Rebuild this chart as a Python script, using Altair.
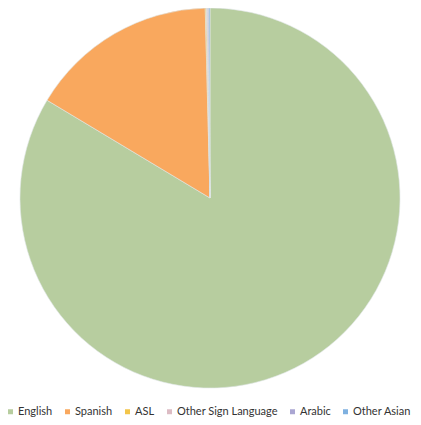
import altair as alt
import pandas as pd

languages = ["English", "Spanish", "ASL", "Other Sign Language", "Arabic", "Other Asian"]
shares = [83.6, 16.0, 0.1, 0.1, 0.1, 0.1]
colors = ["#b7cd9f", "#f9a85e", "#f3c54a", "#dcbcc4", "#aaa6d2", "#7fb1e0"]

df = pd.DataFrame({"language": languages, "share": shares, "idx": list(range(len(languages)))})

chart = alt.Chart(df).mark_arc(radius=190, stroke="#dfe6e6", strokeWidth=0.6).encode(
    theta=alt.Theta("share:Q", stack=True),
    order=alt.Order("idx:Q"),
    x=alt.value(202),
    y=alt.value(190),
    color=alt.Color(
        "language:N",
        scale=alt.Scale(domain=languages, range=colors),
        sort=languages,
        legend=alt.Legend(
            title=None,
            orient="none",
            legendX=-3,
            legendY=398,
            direction="horizontal",
            symbolType="square",
            symbolSize=25,
            symbolStrokeWidth=0,
            labelFont="Lato",
            labelFontSize=11,
            labelColor="#333333",
            labelOffset=2,
            columnPadding=9,
            labelLimit=200,
        ),
    ),
).properties(
    width=405, height=409, padding=0, autosize=alt.AutoSizeParams(type="none")
).configure(background="white", view=alt.ViewConfig(stroke=None))

chart.save("out.html", embed_options={"renderer": "svg", "actions": False})
